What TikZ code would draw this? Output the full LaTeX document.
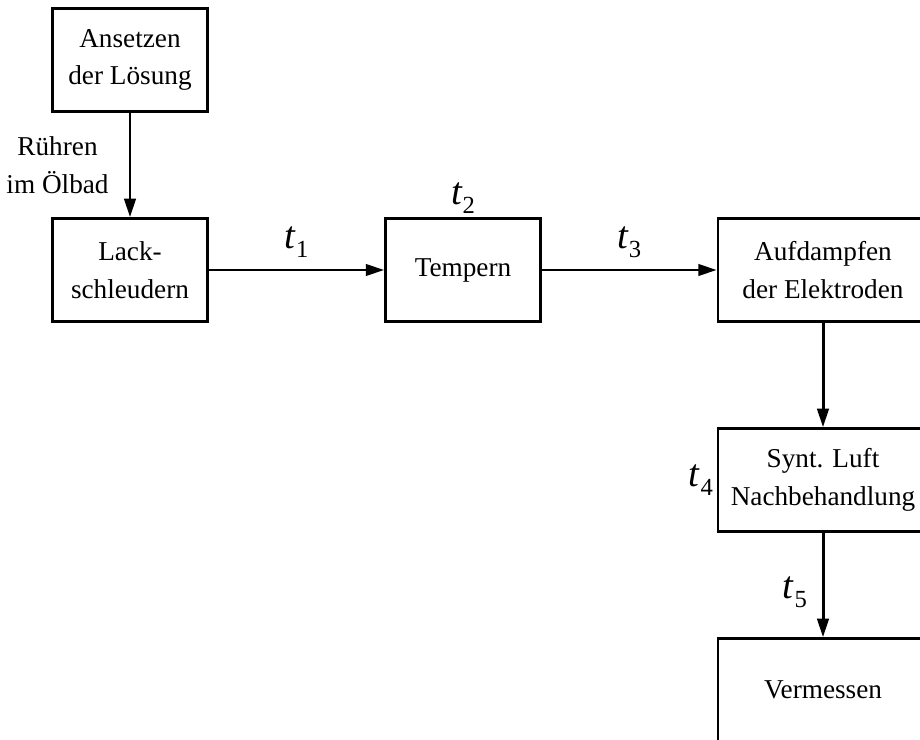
\documentclass[tikz,border=0pt]{standalone}
\usepackage{fontspec}
\setmainfont{Liberation Serif}
\usetikzlibrary{arrows.meta, positioning}

\newcommand{\tidx}[1]{{\fontsize{22}{22}\selectfont\itshape t}\kern0.5pt\raisebox{-5pt}{\fontsize{14}{14}\selectfont #1}}

\begin{document}
\begin{tikzpicture}[
    x=0.02cm, y=-0.02cm,
    >={Triangle[length=10.5pt,width=6.5pt]},
    font=\fontsize{15.5}{21.5}\selectfont,
    box/.style={
        draw=black, align=center, line width=1.5pt,
        minimum width=3.1cm, minimum height=2.06cm, inner sep=2pt
    },
    widebox/.style={box, minimum width=4.2cm},
    arr/.style={->, draw=black, line width=1.7pt},
    tlab/.style={inner sep=2pt},
]
\useasboundingbox (0,0) rectangle (920,740);
% ---------- Zeile 1 ----------
\node[box] (ansetzen)   at (130, 60)  {Ansetzen\\der Lösung};
% ---------- Zeile 2 ----------
\node[box] (lack)       at (130, 270) {Lack-\\schleudern};
\node[box] (tempern)    at (463, 270) {Tempern};
\node[widebox] (aufdampf) at (823, 270) {Aufdampfen\\der Elektroden};
% ---------- rechte Spalte ----------
\node[widebox] (synt)   at (823, 480) {Synt. Luft\\Nachbehandlung};
\node[widebox] (verm)   at (823, 690) {Vermessen};
% ---------- Zeiten ----------
\node[tlab, above=0pt of tempern] (t2) {\tidx{2}};
\node[tlab, left=0pt of synt]     (t4) {\tidx{4}};
% ===================== KANTEN =====================
\draw[arr] (ansetzen) -- node[left=8pt, align=center] (ruehren) {Rühren\\im Ölbad} (lack);
\draw[arr] (lack) -- node[above=3pt] (t1) {\tidx{1}} (tempern);
\draw[arr] (tempern) -- node[above=3pt] (t3) {\tidx{3}} (aufdampf);
\draw[arr] (aufdampf) -- (synt);
\draw[arr] (synt) -- node[left=5pt, yshift=-4pt] (t5) {\tidx{5}} (verm);
\end{tikzpicture}
\end{document}
